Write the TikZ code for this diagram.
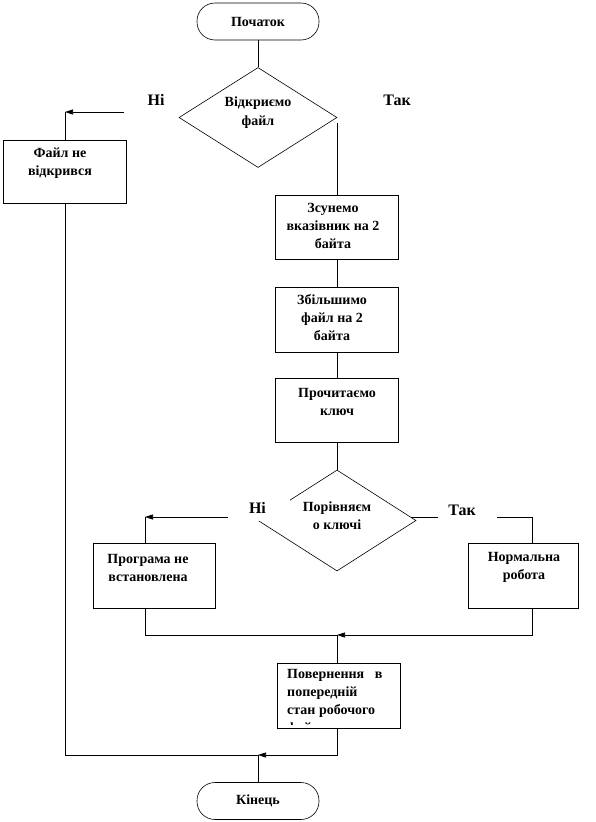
\documentclass[tikz,border=0pt]{standalone}
\usepackage{fontspec}
\setmainfont{Liberation Serif}
\usetikzlibrary{shapes.geometric,arrows.meta,calc}
\begin{document}
\begin{tikzpicture}[x=1pt,y=-1pt,
  every node/.style={inner sep=0pt},
  ln/.style={line width=0.6pt, draw=black},
  arr/.style={ln,-{Triangle[length=8pt,width=5pt]}},
  box/.style={draw, line width=0.6pt, rectangle, minimum height=64pt},
  term/.style={draw, line width=0.6pt, rounded corners=18pt, minimum width=122pt, minimum height=37pt},
  dec/.style={draw, line width=0.6pt, diamond, minimum width=158pt, minimum height=100pt},
  txt/.style={font=\fontsize{14}{18}\selectfont\bfseries, align=center},
  lbl/.style={font=\fontsize{16}{18}\selectfont\bfseries},
]
\useasboundingbox (0,0) rectangle (595,822);

% terminators
\node[term, txt] (start) at (258,21.5) {Початок};
\node[term, txt] (end) at (258,801) {Кінець};

% first decision
\node[dec] (d1) at (258,117.5) {};
\node[txt, font=\fontsize{14}{19}\selectfont\bfseries] (td1) at (258,113) {Відкриємо\\файл};

% boxes
\node[box, minimum width=123pt, minimum height=63pt] (b1) at (64.5,171.5) {};
\node[txt] (tb1) at (60,163) {Файл не\\відкрився};

\node[box, minimum width=123pt] (b2) at (337,227) {};
\node[txt] (tb2) at (333,226) {Зсунемо\\вказівник на 2\\байта};

\node[box, minimum width=123pt, minimum height=65pt] (b3) at (337,319.5) {};
\node[txt] (tb3) at (332,318) {Збільшимо\\файл на 2\\байта};

\node[box, minimum width=123pt] (b4) at (337,410) {};
\node[txt] (tb4) at (337,402) {Прочитаємо\\ключ};

% second decision
\node[dec, minimum height=101pt] (d2) at (337,520.5) {};
\node[txt] (td2) at (337,516) {Порівняєм\\о ключі};

\node[box, minimum width=122pt, minimum height=65pt] (bL) at (154,575.5) {};
\node[txt] (tbL) at (148,568) {Програма не\\встановлена};

\node[box, minimum width=110pt, minimum height=65pt] (bR) at (523,575.5) {};
\node[txt] (tbR) at (524,567) {Нормальна\\робота};

\node[box, minimum width=123pt, minimum height=65pt] (b5) at (338.5,695.5) {};
\begin{scope}
  \clip (278,664) rectangle (399,724.5);
  \node[txt, align=left, anchor=north west] (tb5) at (287,669) {Повернення\ \ \ в\\попередній\\стан робочого\\файлу};
\end{scope}

% coordinates
\coordinate (c1) at (337,123);
\coordinate (nl1) at (124,112);
\coordinate (a1) at (65,112);
\coordinate (dl) at (228,517);
\coordinate (a2) at (145,517);
\coordinate (dre) at ($(d2.north)!0.93!(d2.east)$);
\coordinate (dr1) at (438,517);
\coordinate (dr2) at (497,517);
\coordinate (rt) at (532,517);
\coordinate (j1) at (337,635);
\coordinate (j2) at (258,755);

% connectors
\draw[ln] (start) -- (d1);
\draw[ln] (c1) -- (c1 |- b2.north);
\draw[ln] (b2) -- (b3);
\draw[ln] (b3) -- (b4);
\draw[ln] (b4) -- (d2);
\draw[arr] (nl1) -- (a1);
\draw[ln] (a1) -- (a1 |- b1.north);
\draw[arr] (dl) -- (a2);
\draw[ln] (a2) -- (a2 |- bL.north);
\draw[ln] (dre |- dr1) -- (dr1);
\draw[ln] (dr2) -- (rt) -- (rt |- bR.north);
\draw[ln] (a2 |- bL.south) |- (j1);
\draw[arr] (rt |- bR.south) |- (j1);
\draw[ln] (j1) -- (j1 |- b5.north);
\draw[arr] (j1 |- b5.south) |- (j2);
\draw[ln] (a1 |- b1.south) |- (j2);
\draw[ln] (j2) -- (end);

% labels
\node[lbl] (no1) at (156,100) {Ні};
\node[lbl] (yes1) at (397,100) {Так};
\node[lbl, fill=white, minimum width=44pt, minimum height=26pt, text width=38pt, align=left] (no2) at (268,508) {Ні};
\node[lbl] (yes2) at (462,510) {Так};
\end{tikzpicture}
\end{document}
